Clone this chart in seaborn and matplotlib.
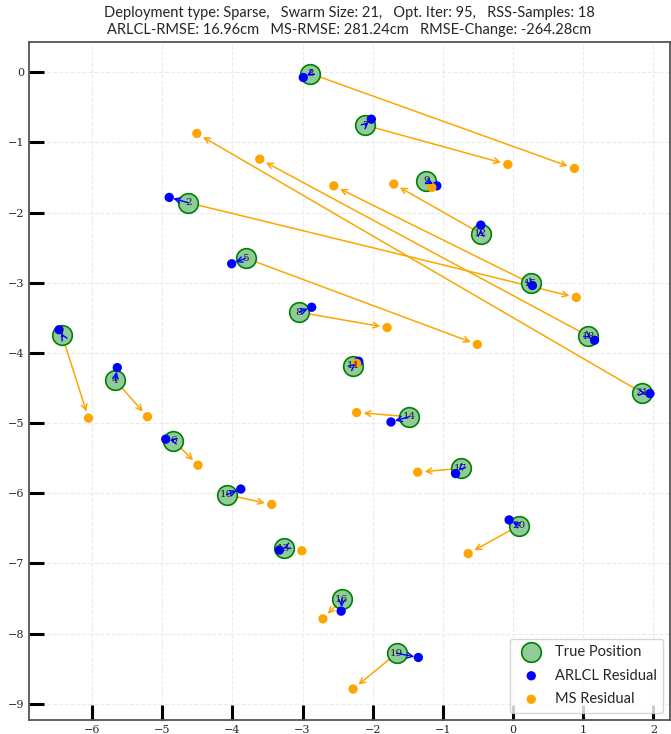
import numpy as np
import pandas as pd
import seaborn as sns
from matplotlib import pyplot as plt

node_ids = list(range(1, 22))
true_x = [-6.43, -4.63, -2.89, -5.67, -3.81, -4.84, -2.11, -3.05, -1.235, -4.08, -2.275,
          -0.46, -3.27, -1.48, 0.25, -2.44, -0.745, 1.07, -1.66, 0.085, 1.84]
true_y = [-3.74, -1.86, -0.02, -4.39, -2.65, -5.25, -0.755, -3.42, -1.548, -6.02, -4.18,
          -2.30, -6.785, -4.91, -3.01, -7.51, -5.645, -3.76, -8.28, -6.46, -4.57]
arlcl_x = [-6.47, -4.90, -2.99, -5.64, -4.01, -4.95, -2.02, -2.87, -1.087, -3.88, -2.20,
           -0.46, -3.33, -1.74, 0.275, -2.45, -0.82, 1.16, -1.35, -0.057, 1.95]
arlcl_y = [-3.67, -1.785, -0.076, -4.21, -2.73, -5.23, -0.67, -3.35, -1.62, -5.94, -4.12,
           -2.18, -6.81, -4.985, -3.04, -7.68, -5.72, -3.82, -8.34, -6.38, -4.58]
ms_x = [-6.05, 0.90, 0.873, -5.21, -0.51, -4.49, -0.076, -1.795, -1.158, -3.44, -2.23,
        -1.70, -3.01, -2.23, -2.555, -2.71, -1.36, -3.61, -2.28, -0.64, -4.506]
ms_y = [-4.93, -3.21, -1.372, -4.91, -3.88, -5.60, -1.315, -3.64, -1.643, -6.16, -4.15,
        -1.595, -6.82, -4.85, -1.62, -7.79, -5.70, -1.24, -8.79, -6.86, -0.874]

title = ("Deployment type: Sparse,   Swarm Size: 21,   Opt. Iter: 95,   RSS-Samples: 18\n"
         "ARLCL-RMSE: 16.96cm   MS-RMSE: 281.24cm   RMSE-Change: -264.28cm")

df = pd.DataFrame({"id": node_ids, "tx": true_x, "ty": true_y,
                   "ax": arlcl_x, "ay": arlcl_y, "mx": ms_x, "my": ms_y})

sns.set_style("whitegrid")
plt.rcParams["font.family"] = ["Lato", "DejaVu Sans"]

fig = plt.figure(figsize=(6.71, 7.34), dpi=100)
ax = fig.add_axes([0.043, 0.019, 0.956, 0.924])

# arrows true -> MS residual
for _, r in df.iterrows():
    ax.annotate("", xy=(r.mx, r.my), xytext=(r.tx, r.ty),
                arrowprops=dict(arrowstyle="->", color="orange", lw=1.1,
                                shrinkA=0, shrinkB=5), zorder=2)

sns.scatterplot(data=df, x="tx", y="ty", s=200, color="#8fcc9a", edgecolor="green",
                linewidth=1.2, label="True Position", ax=ax, zorder=3)
sns.scatterplot(data=df, x="ax", y="ay", s=45, color="blue", edgecolor="none",
                label="ARLCL Residual", ax=ax, zorder=4)
sns.scatterplot(data=df, x="mx", y="my", s=45, color="orange", edgecolor="none",
                label="MS Residual", ax=ax, zorder=4)

for _, r in df.iterrows():
    ax.text(r.tx, r.ty, str(int(r.id)), ha="center", va="center", fontsize=7.5,
            family="DejaVu Serif", color="#222222", zorder=5)
    ax.annotate("", xy=(r["ax"], r.ay), xytext=(r.tx, r.ty),
                arrowprops=dict(arrowstyle="->", color="blue", lw=1.0,
                                shrinkA=0, shrinkB=3), zorder=6)

ax.set_xlim(-6.9, 2.24)
ax.set_ylim(-9.23, 0.43)
ax.set_aspect("equal")
ax.set_xticks(range(-6, 3))
ax.set_yticks(range(-9, 1))
ax.grid(True, color="#ebebeb", linestyle="--", linewidth=0.8)
ax.tick_params(direction="in", length=11, width=2.2, color="black", labelsize=8,
               bottom=True, left=True)
for lab in ax.get_xticklabels() + ax.get_yticklabels():
    lab.set_family("DejaVu Serif")
for s in ax.spines.values():
    s.set_color("#555555")
    s.set_linewidth(1.3)
ax.set_xlabel("")
ax.set_ylabel("")
ax.set_title(title, fontsize=10.5, pad=6)
leg = ax.legend(loc="lower right", fontsize=10.5, frameon=True, borderpad=0.45,
                labelspacing=0.65, handletextpad=0.6)
leg.get_frame().set_edgecolor("#cccccc")

fig.savefig("out.png", dpi=100)
